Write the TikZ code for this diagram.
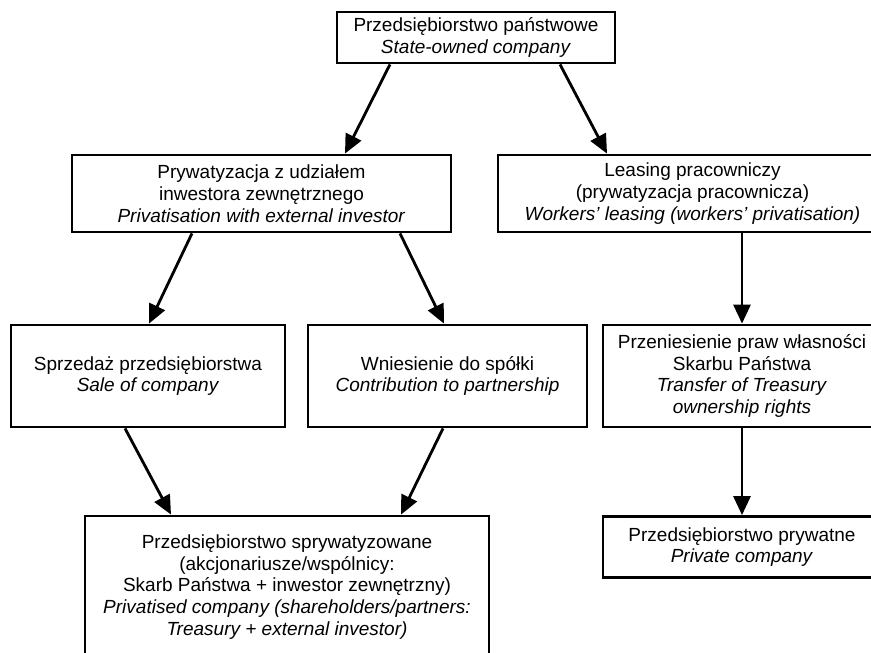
\documentclass[tikz,border=0pt]{standalone}
\usepackage{fontspec}
\setmainfont{Liberation Sans}
\usetikzlibrary{arrows.meta}
\tikzset{
  box/.style={draw=black, line width=2.8pt, fill=white, align=center, inner sep=0pt,
    font=\fontsize{19}{21.8}\selectfont},
  arr/.style={line width=2.8pt, -{Triangle[length=19pt,width=17pt]}}
}
\begin{document}
\begin{tikzpicture}[x=1pt,y=-1pt]
\useasboundingbox (0,0) rectangle (871,653);
\clip (0,0) rectangle (871,653);
\fill[white] (0,0) rectangle (871,653);
% boxes (centres in pt, y downward)
\node[box, minimum width=278pt, minimum height=51pt] (top) at (476,37.5)
  {Przedsiębiorstwo państwowe\\\textit{State-owned company}};
\node[box, minimum width=379pt, minimum height=77pt] (midL) at (261.5,193.5)
  {Prywatyzacja z udziałem\\inwestora zewnętrznego\\\textit{Privatisation with external investor}};
\node[box, minimum width=389pt, minimum height=77pt] (midR) at (692.5,193.5)
  {Leasing pracowniczy\\(prywatyzacja pracownicza)\\\textit{Workers’ leasing (workers’ privatisation)}};
\node[box, minimum width=274pt, minimum height=102pt] (sale) at (148,376)
  {Sprzedaż przedsiębiorstwa\\\textit{Sale of company}};
\node[box, minimum width=279pt, minimum height=102pt] (contrib) at (447.5,376)
  {Wniesienie do spółki\\\textit{Contribution to partnership}};
\node[box, minimum width=278pt, minimum height=102pt] (transfer) at (742,376)
  {Przeniesienie praw własności\\Skarbu Państwa\\\textit{Transfer of Treasury}\\\textit{ownership rights}};
\node[box, minimum width=404pt, minimum height=142pt] (privd) at (287,587)
  {Przedsiębiorstwo sprywatyzowane\\(akcjonariusze/wspólnicy:\\Skarb Państwa + inwestor zewnętrzny)\\\textit{Privatised company (shareholders/partners:}\\\textit{Treasury + external investor)}};
\node[box, minimum width=278pt, minimum height=61pt] (private) at (742,547)
  {Przedsiębiorstwo prywatne\\\textit{Private company}};
% connectors
\draw[arr] ([xshift=-86pt]top.south) -- ([xshift=83.5pt]midL.north);
\draw[arr] ([xshift=84pt]top.south) -- ([xshift=-85.5pt]midR.north);
\draw[arr] ([xshift=-69.5pt]midL.south) -- ([xshift=1pt]sale.north);
\draw[arr] ([xshift=138.5pt]midL.south) -- ([xshift=-3.5pt]contrib.north);
\draw[arr] ([xshift=49.5pt]midR.south) -- (transfer.north);
\draw[arr] ([xshift=-23pt]sale.south) -- ([xshift=-116pt]privd.north);
\draw[arr] ([xshift=-4.5pt]contrib.south) -- ([xshift=114pt]privd.north);
\draw[arr] (transfer.south) -- (private.north);
\end{tikzpicture}
\end{document}
